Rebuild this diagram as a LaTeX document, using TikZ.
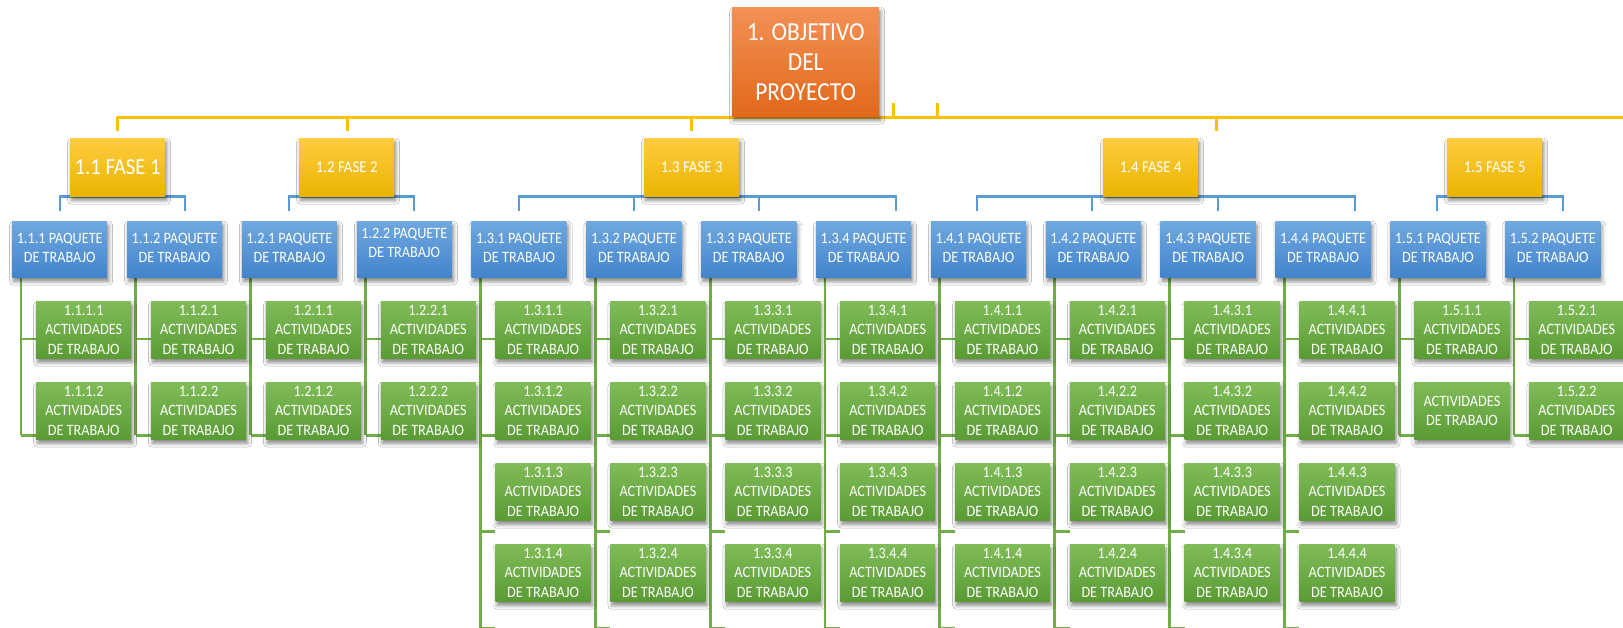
\documentclass[tikz,border=0pt]{standalone}
\usepackage{fontspec}
\setmainfont{Carlito}
\newfontfamily\boxfont[FakeStretch=0.9]{Carlito}
\usetikzlibrary{shadows.blur,backgrounds}

\definecolor{orgTop}{RGB}{243,145,86}
\definecolor{orgBot}{RGB}{226,104,26}
\definecolor{ylwTop}{RGB}{255,204,64}
\definecolor{ylwBot}{RGB}{234,180,0}
\definecolor{bluTop}{RGB}{112,168,223}
\definecolor{bluBot}{RGB}{66,132,204}
\definecolor{grnTop}{RGB}{128,188,88}
\definecolor{grnBot}{RGB}{90,155,52}
\definecolor{ylwLine}{RGB}{255,192,0}
\definecolor{bluLine}{RGB}{91,155,213}
\definecolor{grnLine}{RGB}{112,173,71}

\begin{document}
\begin{tikzpicture}[x=1pt,y=-1pt,
  boxbase/.style={anchor=north west, inner sep=0pt, draw=none, text=white, align=center,
    blur shadow={shadow xshift=1.5pt, shadow yshift=-4pt, shadow blur radius=4pt, shadow opacity=50}},
  objbox/.style={boxbase, minimum width=147pt, minimum height=109pt,
    top color=orgTop, bottom color=orgBot, font=\boxfont\fontsize{26}{30}\selectfont},
  fasebox/.style={boxbase, minimum width=95pt, minimum height=58pt,
    top color=ylwTop, bottom color=ylwBot, font=\boxfont\fontsize{16.5}{19}\selectfont},
  bigfase/.style={fasebox, font=\boxfont\fontsize{23}{26}\selectfont},
  pkgbox/.style={boxbase, minimum width=95pt, minimum height=56pt,
    top color=bluTop, bottom color=bluBot, font=\boxfont\fontsize{15.8}{19}\selectfont},
  actbox/.style={boxbase, minimum width=95pt, minimum height=57pt,
    top color=grnTop, bottom color=grnBot, font=\boxfont\fontsize{15.8}{19.5}\selectfont},
  ylwline/.style={draw=ylwLine, line width=3pt},
  bluline/.style={draw=bluLine, line width=2.6pt},
  grnline/.style={draw=grnLine, line width=2.8pt}]

\useasboundingbox (0,0) rectangle (1623,627);

% project objective
\node[objbox] (obj) at (732,7) {1. OBJETIVO\\DEL\\PROYECTO};

% phases
\node[bigfase] (f1) at (70,138) {1.1 FASE 1};
\node[fasebox] (f2) at (299,138) {1.2 FASE 2};
\node[fasebox] (f3) at (644,138) {1.3 FASE 3};
\node[fasebox] (f4) at (1103,138) {1.4 FASE 4};
\node[fasebox] (f5) at (1447,138) {1.5 FASE 5};

% work packages and their activities
\foreach \i/\lbl/\n in {0/1.1.1/2,1/1.1.2/2,2/1.2.1/2,3/1.2.2/2,4/1.3.1/4,5/1.3.2/4,
    6/1.3.3/4,7/1.3.4/4,8/1.4.1/4,9/1.4.2/4,10/1.4.3/4,11/1.4.4/4,12/1.5.1/2,13/1.5.2/2}{
  \pgfmathsetmacro\px{12+114.85*\i}
  \pgfmathtruncatemacro\lift{\i==3 ? 5 : 0}
  \node[pkgbox] (pk\i) at (\px,221)
    {\raisebox{\lift pt}[\height][\depth]{\begin{tabular}{@{}c@{}}\lbl\ PAQUETE\\DE TRABAJO\end{tabular}}};
  \foreach \j in {1,...,\n}{
    \pgfmathsetmacro\ay{301+81*(\j-1)}
    \pgfmathtruncatemacro\nonum{(\i==12)&&(\j==2)}
    \node[actbox] (ac\i-\j) at (\px+24,\ay)
      {\ifnum\nonum=1 ACTIVIDADES\\DE TRABAJO\else\lbl.\j\\ACTIVIDADES\\DE TRABAJO\fi};
  }
}

\begin{pgfonlayer}{background}
  \fill[white] (0,0) rectangle (1623,627);

  % main bus below the objective
  \coordinate (y1) at (117,131);
  \coordinate (y2) at (347,131);
  \coordinate (y3) at (691,131);
  \coordinate (y4) at (1216,131);
  \coordinate (busR) at (1623,117);
  \coordinate (t1) at (893,103);
  \coordinate (t2) at (937,103);
  \draw[ylwline] (y1) |- (busR);
  \foreach \k in {y2,y3,y4,t1,t2}{
    \draw[ylwline] (\k) -- (\k |- busR);
  }

  % phase buses
  \draw[bluline] (60,211) |- (f1.south) -| (185,211);
  \draw[bluline] (289,211) |- (f2.south) -| (414,211);
  \draw[bluline] (519,211) |- (f3.south) -| (896,211);
  \draw[bluline] (977,211) |- (f4.south) -| (1355,211);
  \draw[bluline] (1437,211) |- (f5.south) -| (1563,211);
  \coordinate (d3b) at (634,211);
  \coordinate (d3c) at (759,211);
  \coordinate (d4b) at (1092,211);
  \coordinate (d4c) at (1218,211);
  \draw[bluline] (d3b) -- (d3b |- f3.south);
  \draw[bluline] (d3c) -- (d3c |- f3.south);
  \draw[bluline] (d4b) -- (d4b |- f4.south);
  \draw[bluline] (d4c) -- (d4c |- f4.south);

  % activity trunks
  \foreach \i/\n in {0/2,1/2,2/2,3/2,4/4,5/4,6/4,7/4,8/4,9/4,10/4,11/4,12/2,13/2}{
    \pgfmathsetmacro\px{12+114.85*\i}
    \foreach \j in {1,...,\n}{
      \pgfmathsetmacro\sy{339+96.3*(\j-1)}
      \coordinate (s\i-\j) at (\px+9,\sy);
      \draw[grnline] (s\i-\j) -- (s\i-\j -| ac\i-\j.west);
    }
    \draw[grnline] ([xshift=9pt]pk\i.south west) -- (s\i-\n);
  }
\end{pgfonlayer}
\end{tikzpicture}
\end{document}
